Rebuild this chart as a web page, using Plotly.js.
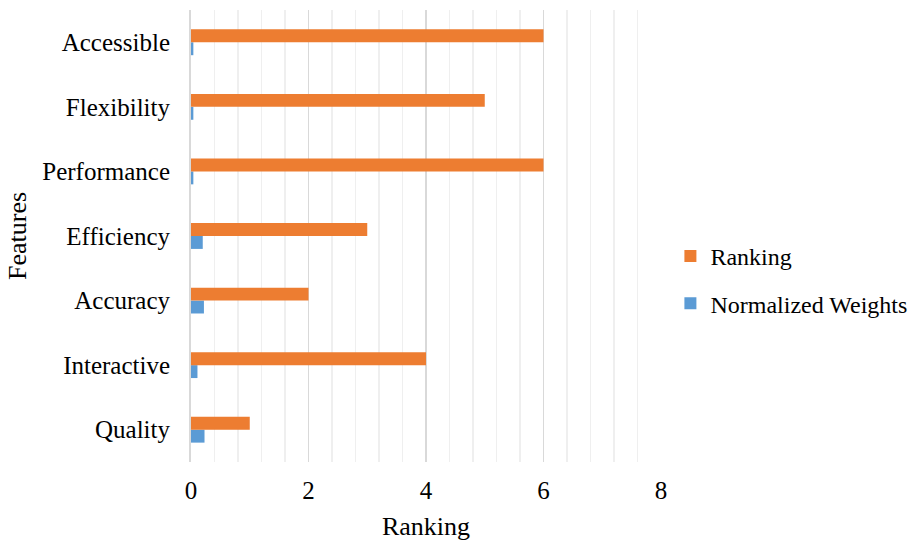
<!DOCTYPE html>
<html>
<head>
<meta charset="utf-8">
<script src="https://cdn.plot.ly/plotly-3.0.1.min.js"></script>
<style>html,body{margin:0;padding:0;background:#fff;}#chart{width:917px;height:541px;}</style>
</head>
<body>
<div id="chart"></div>
<script>
const features = ["Quality", "Interactive", "Accuracy", "Efficiency", "Performance", "Flexibility", "Accessible"];
const ranking = [1, 4, 2, 3, 6, 5, 6];
const normalizedWeights = [0.23, 0.11, 0.22, 0.2, 0.04, 0.04, 0.04];
const xTicks = [0, 2, 4, 6, 8];

const font = "Liberation Serif, Times New Roman, serif";

const traces = [
  {
    type: "bar", orientation: "h", name: "Normalized Weights", legendgroup: "nw", legendrank: 2,
    y: features, x: normalizedWeights,
    marker: {color: "#5b9bd5"}, hoverinfo: "x+y"
  },
  {
    type: "bar", orientation: "h", name: "Ranking", legendgroup: "rk", legendrank: 1,
    y: features, x: ranking,
    marker: {color: "#ed7d31"}, hoverinfo: "x+y"
  }
];

const layout = {
  width: 917, height: 541,
  margin: {l: 191, r: 256, t: 10, b: 79, autoexpand: false},
  paper_bgcolor: "#ffffff", plot_bgcolor: "#ffffff",
  font: {family: font, size: 25, color: "#000"},
  barmode: "group", bargap: 0.6, bargroupgap: 0,
  showlegend: true,
  legend: {
    x: 1.02, xanchor: "left", y: 0.403, yanchor: "middle",
    traceorder: "grouped", font: {family: font, size: 24, color: "#000"},
    itemwidth: 30, tracegroupgap: 13
  },
  xaxis: {
    range: [0, 8], tickvals: xTicks, ticktext: xTicks.map(String),
    showgrid: true, gridcolor: "#d9d9d9", gridwidth: 1.5,
    minor: {dtick: 0.4, showgrid: true, gridcolor: "#efefef", gridwidth: 1.5},
    zeroline: false, showline: false, ticks: "",
    ticklabelstandoff: 11,
    tickfont: {family: font, size: 25},
    title: {text: "Ranking", font: {family: font, size: 26}, standoff: 15},
    automargin: false, fixedrange: true
  },
  yaxis: {
    type: "category", categoryorder: "array", categoryarray: features,
    showgrid: false, zeroline: false,
    showline: true, linecolor: "#d9d9d9", linewidth: 2,
    ticks: "", ticklabelstandoff: 14,
    tickfont: {family: font, size: 25},
    title: {text: "Features", font: {family: font, size: 26}, standoff: 8},
    automargin: false, fixedrange: true
  }
};

Plotly.newPlot("chart", traces, layout, {displayModeBar: false, staticPlot: true});
</script>
</body>
</html>
